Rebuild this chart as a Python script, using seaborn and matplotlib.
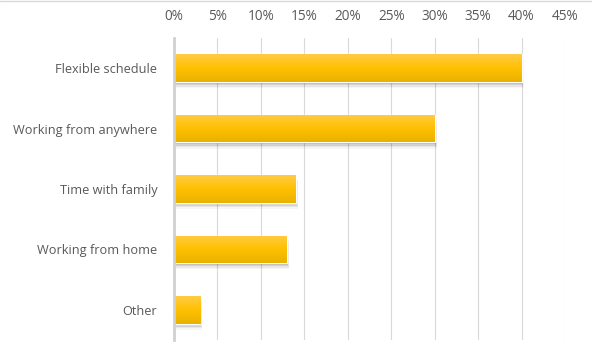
import numpy as np
import pandas as pd
import matplotlib
matplotlib.use("Agg")
import matplotlib.pyplot as plt
import seaborn as sns
from matplotlib.patches import Rectangle
from matplotlib.colors import LinearSegmentedColormap

categories = ["Flexible schedule", "Working from anywhere", "Time with family",
              "Working from home", "Other"]
values = [40, 30, 14, 13, 3]
xticks = [0, 5, 10, 15, 20, 25, 30, 35, 40, 45]
xticklabels = [f"{t}%" for t in xticks]

df = pd.DataFrame({"category": categories, "value": values})

sns.set_theme(style="white")
plt.rcParams['font.family'] = ['Open Sans', 'DejaVu Sans']

fig = plt.figure(figsize=(5.92, 3.56), dpi=100)
ax = fig.add_axes([174/592, 1-340/356, (565-174)/592, (340-38)/356])

sns.barplot(data=df, x="value", y="category", orient="h", ax=ax,
            color="#FFC000", width=0.46, saturation=1)

ax.set_xlim(0, 45)
ax.set_ylim(len(categories)-0.5, -0.5)
ax.xaxis.tick_top()
ax.set_xticks(xticks)
ax.set_xticklabels(xticklabels)
ax.set_xlabel("")
ax.set_ylabel("")
ax.tick_params(axis="x", length=0, pad=10, labelsize=9.8, colors="#595959")
ax.tick_params(axis="y", length=0, pad=12, labelsize=9.2, colors="#595959")
ax.grid(axis="x", color="#D9D9D9", linewidth=0.8)
ax.set_axisbelow(True)
for s in ["top", "right", "bottom"]:
    ax.spines[s].set_visible(False)
ax.spines["left"].set_color("#D0D0D0")
ax.spines["left"].set_linewidth(2)
ax.spines["left"].set_zorder(5)

cmap = LinearSegmentedColormap.from_list("g", ["#FFCB45", "#FFC000", "#E9B200"])
grad = np.linspace(0, 1, 64).reshape(-1, 1)
for p in list(ax.patches):
    x0, y0 = p.get_x(), p.get_y()
    w, h = p.get_width(), p.get_height()
    # soft shadow below-right
    for i, a in enumerate([0.14, 0.09, 0.06, 0.035]):
        off = 0.025 + i * 0.025
        sh = Rectangle((x0 + 0.1 + i*0.06, y0 + off), w, h, facecolor="#000000",
                       alpha=a, edgecolor="none", zorder=p.get_zorder()-0.1)
        ax.add_patch(sh)
    im = ax.imshow(grad, cmap=cmap, aspect="auto", extent=[x0, x0 + w, y0 + h, y0],
                   zorder=p.get_zorder() + 0.1, interpolation="bilinear")
    im.set_clip_path(p)

ax.set_xlim(0, 45)
ax.set_ylim(len(categories)-0.5, -0.5)

fig.add_artist(plt.Line2D([0, 1], [0.998, 0.998], color="#D9D9D9", linewidth=1,
                          transform=fig.transFigure))

fig.savefig("out.png", dpi=100)
